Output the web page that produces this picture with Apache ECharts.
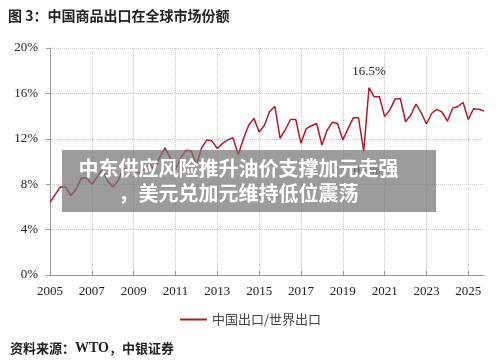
<!DOCTYPE html>
<html>
<head>
<meta charset="utf-8">
<script src="https://cdn.jsdelivr.net/npm/echarts@6/dist/echarts.min.js"></script>
<style>html,body{margin:0;padding:0;background:#fff;}#c{width:500px;height:364px;}</style>
</head>
<body>
<div id="c"></div>
<script>
// Quarterly share of China's exports in world exports (%)
const years = ['2005','2006','2007','2008','2009','2010','2011','2012','2013','2014','2015',
               '2016','2017','2018','2019','2020','2021','2022','2023','2024','2025'];
const quarters = ['Q1','Q2','Q3','Q4'];
const shareByYear = [
  [6.4, 7.1, 7.75, 7.75],
  [7.0, 7.55, 8.55, 8.55],
  [8.0, 8.6, 9.3, 8.3],
  [7.75, 8.3, 9.3, 9.4],
  [9.2, 9.0, 9.3, 9.8],
  [9.25, 10.4, 11.2, 10.3],
  [9.3, 10.3, 11.0, 10.95],
  [9.7, 11.2, 11.9, 11.8],
  [11.15, 11.6, 11.9, 12.1],
  [10.6, 12.0, 13.2, 13.8],
  [12.6, 13.2, 14.4, 14.85],
  [12.05, 12.8, 13.7, 13.7],
  [11.6, 12.9, 13.15, 13.35],
  [11.45, 12.75, 13.45, 13.35],
  [11.9, 12.9, 13.85, 13.85],
  [10.9, 16.5, 15.7, 15.7],
  [13.95, 14.55, 15.5, 15.55],
  [13.5, 14.1, 15.05, 14.3],
  [13.3, 14.25, 14.6, 14.35],
  [13.55, 14.7, 14.85, 15.2],
  [13.7, 14.65, 14.6, 14.45]
];
const yTicks = [0, 4, 8, 12, 16, 20];
const seriesName = '中国出口/世界出口';
const titleText = '图 3：中国商品出口在全球市场份额';
const overlayLine1 = '中东供应风险推升油价支撑加元走强';
const overlayLine2 = '，美元兑加元维持低位震荡';
const dipCategory = '2020Q1';

const categories = [];
const values = [];
years.forEach((y, i) => quarters.forEach((q, j) => { categories.push(y + q); values.push(shareByYear[i][j]); }));
const peakIdx = values.indexOf(Math.max(...values));
const dipIdx = categories.indexOf(dipCategory);
const everyTwoYears = (idx) => idx % 8 === 0;

const serif = '"Liberation Serif", "DejaVu Serif", serif';
const cjk = '"Noto Sans CJK SC", sans-serif';

const chart = echarts.init(document.getElementById('c'), null, {renderer: 'canvas'});
chart.setOption({
  animation: false,
  backgroundColor: '#fff',
  grid: {left: 50, right: 16, top: 48, bottom: 89},
  legend: {
    data: [seriesName], left: 175, top: 308, icon: 'rect', itemWidth: 27, itemHeight: 2, itemGap: 4,
    textStyle: {fontFamily: cjk, fontSize: 13, color: '#444'}
  },
  xAxis: {
    type: 'category', data: categories, boundaryGap: false,
    axisLine: {lineStyle: {color: '#999', width: 1}},
    axisTick: {inside: true, length: 4, interval: everyTwoYears, lineStyle: {color: '#999'}},
    axisLabel: {interval: everyTwoYears, formatter: v => v.slice(0, 4), margin: 10,
      fontFamily: serif, fontSize: 13, color: '#222'},
    splitLine: {show: true, interval: everyTwoYears, lineStyle: {type: 'dotted', color: '#c8c8c8'}}
  },
  yAxis: {
    type: 'value', min: yTicks[0], max: yTicks[yTicks.length - 1], interval: yTicks[1] - yTicks[0],
    axisLine: {show: true, lineStyle: {color: '#999'}},
    axisTick: {show: true, length: 4, lineStyle: {color: '#999'}},
    axisLabel: {formatter: '{value}%', margin: 12, fontFamily: serif, fontSize: 13, color: '#222'},
    splitLine: {lineStyle: {type: 'dotted', color: '#c8c8c8'}}
  },
  series: [{
    name: seriesName, type: 'line', data: values, showSymbol: false,
    lineStyle: {color: '#b2182b', width: 1.5}, itemStyle: {color: '#b2182b'},
    markPoint: {
      symbol: 'circle', symbolSize: 1, itemStyle: {color: 'rgba(0,0,0,0)'},
      data: [
        {coord: [categories[peakIdx], values[peakIdx]], value: values[peakIdx],
          label: {show: true, position: 'top', distance: 9, formatter: values[peakIdx].toFixed(1) + '%',
            fontFamily: serif, fontSize: 13, color: '#222'}},
        {coord: [categories[dipIdx], values[dipIdx]], value: values[dipIdx],
          label: {show: true, position: 'bottom', distance: 12, formatter: values[dipIdx].toFixed(1) + '%',
            fontFamily: serif, fontSize: 13, color: '#222'}}
      ]
    }
  }],
  graphic: [
    {type: 'text', left: 8, top: 9, style: {text: titleText, font: 'bold 14px ' + cjk, fill: '#222'}},
    {type: 'rect', z: 100, shape: {x: 62, y: 150, width: 374, height: 62}, style: {fill: 'rgba(118,118,118,0.72)'}},
    {type: 'text', z: 101, x: 238.5, y: 168, style: {text: overlayLine1, font: 'bold 20px ' + cjk, fill: '#fff', align: 'center', verticalAlign: 'middle'}},
    {type: 'text', z: 101, x: 238.5, y: 193, style: {text: overlayLine2, font: 'bold 20px ' + cjk, fill: '#fff', align: 'center', verticalAlign: 'middle'}},
    {type: 'text', left: 10, top: 341, style: {
      text: '{a|资料来源：}{b|WTO}{a|，中银证券}',
      rich: {
        a: {fontFamily: cjk, fontWeight: 'bold', fontSize: 13, fill: '#222', color: '#222'},
        b: {fontFamily: serif, fontWeight: 'bold', fontSize: 14, fill: '#222', color: '#222'}
      }
    }}
  ]
});
</script>
</body>
</html>
